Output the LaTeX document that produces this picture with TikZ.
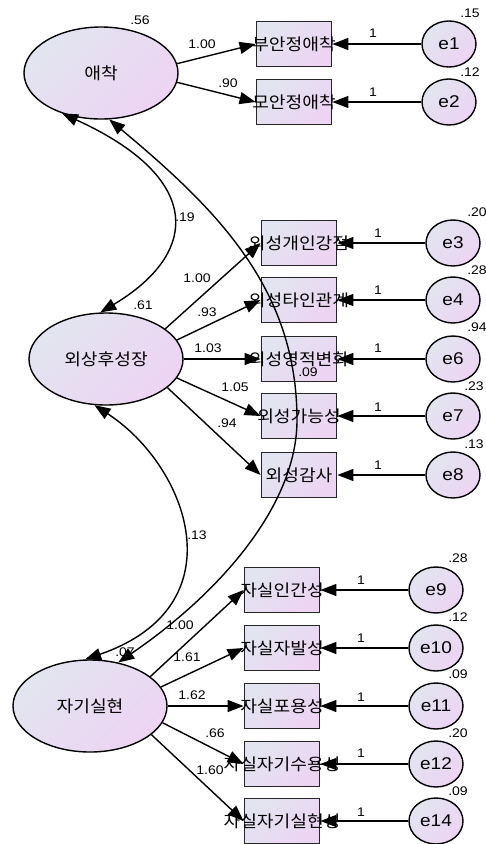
\documentclass[tikz,border=0pt]{standalone}
\usepackage{fontspec}
\setmainfont{Liberation Sans}[FakeStretch=1.12]
\newfontfamily\kr{Noto Sans CJK KR}[FakeStretch=1.1]
\usetikzlibrary{arrows.meta,shapes.geometric,calc}
\definecolor{gl}{RGB}{226,229,240}
\definecolor{gr}{RGB}{237,212,243}
\tikzset{
  latent/.style={ellipse, draw=black, line width=1.4pt, top color=gl, bottom color=gr, shading angle=45,
    minimum width=154pt, minimum height=92pt, inner sep=0pt, font=\kr\fontsize{16.5}{17}\selectfont},
  obs/.style={rectangle, draw=black!85, line width=1.8pt, top color=gl, bottom color=gr, shading angle=45,
    minimum width=75pt, minimum height=45pt, inner sep=0pt},
  boxtxt/.style={inner sep=0pt, font=\kr\fontsize{16.5}{17}\selectfont},
  err/.style={ellipse, draw=black, line width=1.4pt, top color=gl, bottom color=gr, shading angle=45,
    minimum width=54pt, minimum height=46pt, inner sep=0pt, font=\fontsize{17}{17}\selectfont},
  num/.style={inner sep=0pt, font=\fontsize{12.5}{13}\selectfont},
  arr/.style={-{Triangle[length=16pt,width=12pt]}, line width=1.4pt},
  cov/.style={{Triangle[length=16pt,width=12pt]}-{Triangle[length=16pt,width=12pt]}, line width=1.4pt}
}
\begin{document}
\begin{tikzpicture}[x=1pt,y=-1pt]
\useasboundingbox[fill=white] (0,0) rectangle (486,844);
% latent variables
\node[latent] (A) at (101,73) {애착};
\node[latent] (P) at (106,359) {외상후성장};
\node[latent] (S) at (90,706) {자기실현};
% observed boxes
\node[obs] (b1) at (294,44) {};
\node[obs] (b2) at (294,102) {};
\node[obs] (p1) at (299,243) {};
\node[obs] (p2) at (299,300) {};
\node[obs] (p3) at (299,359) {};
\node[obs] (p4) at (299,416) {};
\node[obs] (p5) at (299,475) {};
\node[obs] (s1) at (282,590) {};
\node[obs] (s2) at (282,648) {};
\node[obs] (s3) at (282,706) {};
\node[obs] (s4) at (282,764) {};
\node[obs] (s5) at (282,821) {};
\node[boxtxt] (b1t) at (b1) {부안정애착};
\node[boxtxt] (b2t) at (b2) {모안정애착};
\node[boxtxt] (p1t) at (p1) {외성개인강점};
\node[boxtxt] (p2t) at (p2) {외성타인관계};
\node[boxtxt] (p3t) at (p3) {외성영적변화};
\node[boxtxt] (p4t) at (p4) {외성가능성};
\node[boxtxt] (p5t) at (p5) {외성감사};
\node[boxtxt] (s1t) at (s1) {자실인간성};
\node[boxtxt] (s2t) at (s2) {자실자발성};
\node[boxtxt] (s3t) at (s3) {자실포용성};
\node[boxtxt] (s4t) at (s4) {자실자기수용성};
\node[boxtxt] (s5t) at (s5) {자실자기실현성};
% error terms
\node[err] (e1) at (449,44) {e1};
\node[err] (e2) at (449,102) {e2};
\node[err] (e3) at (453,243) {e3};
\node[err] (e4) at (453,300) {e4};
\node[err] (e6) at (453,359) {e6};
\node[err] (e7) at (453,416) {e7};
\node[err] (e8) at (453,475) {e8};
\node[err] (e9) at (436,590) {e9};
\node[err] (e10) at (436,648) {e10};
\node[err] (e11) at (436,706) {e11};
\node[err] (e12) at (436,764) {e12};
\node[err] (e14) at (436,821) {e14};
% regression paths
\draw[arr] (A.7) -- (b1.west);
\draw[arr] (A.-7) -- (b2.west);
\draw[arr] (P.27) -- (p1.west);
\draw[arr] (P.15) -- (p2.west);
\draw[arr] (P.0) -- (p3.west);
\draw[arr] (P.-15) -- (p4.west);
\draw[arr] (P.-25) -- (p5.west);
\draw[arr] (S.26) -- (s1.west);
\draw[arr] (S.15) -- (s2.west);
\draw[arr] (S.0) -- (s3.west);
\draw[arr] (S.-13) -- (s4.west);
\draw[arr] (S.-25) -- (s5.west);
% error paths
\foreach \e/\b in {e1/b1,e2/b2,e3/p1,e4/p2,e6/p3,e7/p4,e8/p5,e9/s1,e10/s2,e11/s3,e12/s4,e14/s5}
  \draw[arr] (\e) -- (\b.east);
% covariances
\draw[cov] (A.226) .. controls (204,178) and (200,253) .. (P.97);
\draw[cov] (A.280) .. controls (219,211) and (297,290) .. (297,420) .. controls (297,505) and (220,593) .. (S.57);
\draw[cov] (P.256) .. controls (188,466) and (240,606) .. (S.96);
% variance labels
\node[num] (vA) at (140,20) {.56};
\node[num] (vP) at (143,305) {.61};
\node[num] (vS) at (125,652) {.07};
\node[num] (v1) at (470,13) {.15};
\node[num] (v2) at (470,72) {.12};
\node[num] (v3) at (477,212) {.20};
\node[num] (v4) at (477,270) {.28};
\node[num] (v6) at (477,327) {.94};
\node[num] (v7) at (474,386) {.23};
\node[num] (v8) at (474,444) {.13};
\node[num] (v9) at (458,558) {.28};
\node[num] (v10) at (458,617) {.12};
\node[num] (v11) at (458,674) {.09};
\node[num] (v12) at (458,733) {.20};
\node[num] (v14) at (458,791) {.09};
% covariance labels
\node[num] (c1) at (185,217) {.19};
\node[num] (c2) at (308,372) {.09};
\node[num] (c3) at (197,535) {.13};
% loading labels
\node[num] (l1) at (202,44) {1.00};
\node[num] (l2) at (228,83) {.90};
\node[num] (l3) at (197,278) {1.00};
\node[num] (l4) at (207,312) {.93};
\node[num] (l5) at (208,348) {1.03};
\node[num] (l6) at (235,387) {1.05};
\node[num] (l7) at (227,423) {.94};
\node[num] (l8) at (180,625) {1.00};
\node[num] (l9) at (187,657) {1.61};
\node[num] (l10) at (192,695) {1.62};
\node[num] (l11) at (215,733) {.66};
\node[num] (l12) at (210,770) {1.60};
% error path labels
\node[num] (o1) at (373,33) {1};
\node[num] (o2) at (373,92) {1};
\node[num] (o3) at (378,233) {1};
\node[num] (o4) at (378,290) {1};
\node[num] (o6) at (378,348) {1};
\node[num] (o7) at (378,407) {1};
\node[num] (o8) at (378,465) {1};
\node[num] (o9) at (361,580) {1};
\node[num] (o10) at (361,638) {1};
\node[num] (o11) at (361,697) {1};
\node[num] (o12) at (361,753) {1};
\node[num] (o14) at (361,812) {1};
\end{tikzpicture}
\end{document}
